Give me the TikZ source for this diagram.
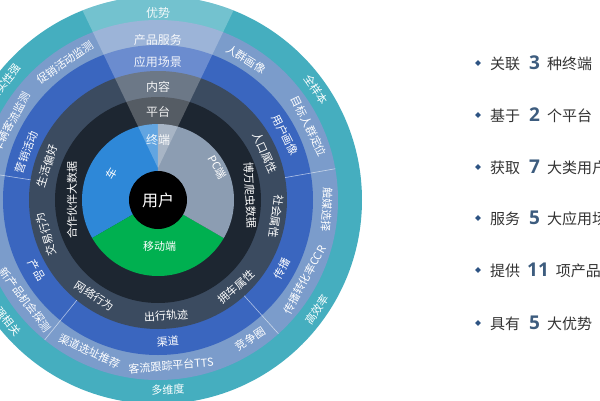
\documentclass[tikz,border=0pt]{standalone}
\usepackage{fontspec}
\setmainfont{Noto Sans CJK SC}
\newfontfamily\numfont{Open Sans}
\usetikzlibrary{shapes.geometric}
\definecolor{ringteal}{HTML}{45AEBF}
\definecolor{ringsteel}{HTML}{7B9CCB}
\definecolor{ringroyal}{HTML}{3A66BF}
\definecolor{ringslate}{HTML}{3B4B60}
\definecolor{ringnavy}{HTML}{1D2631}
\definecolor{carblue}{HTML}{2E88D8}
\definecolor{pcgray}{HTML}{8C9DB2}
\definecolor{mobgreen}{HTML}{00B050}
\definecolor{numblue}{HTML}{3D5C7E}
\definecolor{dotblue}{HTML}{2D5383}
\definecolor{itemgray}{HTML}{333333}

\begin{document}
\begin{tikzpicture}[x=1pt, y=1pt,
    lbl/.style={text=white, font=\fontsize{11}{11}\selectfont, inner sep=0pt},
    toplbl/.style={text=white, text opacity=0.9, font=\fontsize{12}{12}\selectfont, inner sep=0pt},
    sep/.style={white, opacity=0.6, line width=0.6pt},
    dot/.style={diamond, fill=dotblue, inner sep=0pt, minimum size=6pt},
    item/.style={text=itemgray, font=\fontsize{15}{15}\selectfont, inner sep=0pt, anchor=west}]
  \useasboundingbox (-158,-200) rectangle (442,200);
  \begin{scope}
    \clip (-158,-200) rectangle (442,200);
    \fill[ringteal] (0,0) circle (204);
    \fill[ringsteel] (0,0) circle (180);
    \fill[ringroyal] (0,0) circle (155);
    \fill[ringslate] (0,0) circle (129);
    \fill[ringnavy] (0,0) circle (103);
    \fill[carblue] (0,0) -- (90:76) arc (90:210:76) -- cycle;
    \fill[mobgreen] (0,0) -- (210:76) arc (210:330:76) -- cycle;
    \fill[pcgray] (0,0) -- (330:76) arc (330:450:76) -- cycle;
    \begin{scope}
      \clip (0,0) circle (204);
      \fill[white, opacity=0.25] (0,32) -- +(64.4:320) -- +(115.6:320) -- cycle;
    \end{scope}
    \fill[black] (0,0) circle (29);
    \draw[sep] (10:129) -- (10:180);
    \draw[sep] (171:129) -- (171:180);
    \draw[sep] (231:129) -- (231:180);
    \draw[sep] (-48:129) -- (-48:180);

    \node[text=white, font=\fontsize{16}{16}\selectfont, inner sep=0pt] (user) at (0,0) {用户};
    \node[toplbl] (term) at (90:60) {终端};
    \node[toplbl] (plat) at (90:88) {平台};
    \node[toplbl] (cont) at (90:113) {内容};
    \node[toplbl] (scen) at (90:138) {应用场景};
    \node[toplbl] (prod) at (90:160) {产品服务};
    \node[toplbl] (adv) at (90:187) {优势};

    \node[lbl, rotate=60] (car) at (150:53) {车};
    \node[lbl, rotate=-61] (pc) at (29:68) {PC端};
    \node[lbl] (mob) at (272:46) {移动端};

    \node[lbl, rotate=90] (partner) at (180:86) {合作伙伴大数据};
    \node[lbl, rotate=-87] (crawl) at (3:92) {博万爬虫数据};

    \node[lbl, rotate=-66] (popu) at (24:117) {人口属性};
    \node[lbl, rotate=-98] (soci) at (-8:119) {社会属性};
    \node[lbl, rotate=42] (carown) at (-48:117) {拥车属性};
    \node[lbl, rotate=4] (trip) at (-86:116) {出行轨迹};
    \node[lbl, rotate=-33.5] (web) at (236.5:115) {网络行为};
    \node[lbl, rotate=107] (trade) at (197:117) {交易行为};
    \node[lbl, rotate=73] (life) at (163:116) {生活偏好};

    \node[lbl, rotate=-63] (portrait) at (27:143) {用户画像};
    \node[lbl, rotate=61] (spread) at (-29:142) {传播};
    \node[lbl, rotate=4] (chan) at (-86:142) {渠道};
    \node[lbl, rotate=-60] (goods) at (210:140) {产品};
    \node[lbl, rotate=70] (mkt) at (160:140) {营销活动};

    \node[lbl, rotate=-32] (crowd) at (58:166) {人群画像};
    \node[lbl, rotate=-64] (target) at (26:168) {目标人群定位};
    \node[lbl, rotate=-93] (media) at (-3.3:169) {触媒选择};
    \node[lbl, rotate=61.4] (ccr) at (-28.6:167) {传播转化率CCR};
    \node[lbl, rotate=33.6] (compet) at (-56.4:167) {竞争圈};
    \node[lbl, rotate=4.5] (tts) at (-85.5:166) {客流跟踪平台TTS};
    \node[lbl, rotate=-24.4] (site) at (245.6:166) {渠道选址推荐};
    \node[lbl, rotate=-53] (newp) at (217:166) {新产品机会探测};
    \node[lbl, rotate=62] (flow) at (152:166) {车辆客流监测};
    \node[lbl, rotate=34] (promo) at (124:166) {促销活动监测};

    \node[lbl, rotate=-55] (full) at (35:193) {全样本};
    \node[lbl, rotate=55.5] (eff) at (-34.5:193) {高效率};
    \node[lbl, rotate=3] (multi) at (-87:190) {多维度};
    \node[lbl, rotate=-51] (corr) at (219:193) {强相关};
    \node[lbl, rotate=52] (real) at (142.5:193) {真实性强};

    \node[dot] (d1) at (320,137) {};
    \node[dot] (d2) at (320,85) {};
    \node[dot] (d3) at (320,33) {};
    \node[dot] (d4) at (320,-18) {};
    \node[dot] (d5) at (320,-70) {};
    \node[dot] (d6) at (320,-123) {};
    \node[item] (t1) at (332,137) {关联\hspace{9pt}{\numfont\bfseries\fontsize{19}{19}\selectfont\color{numblue}3}\hspace{7pt}种终端};
    \node[item] (t2) at (332,85) {基于\hspace{9pt}{\numfont\bfseries\fontsize{19}{19}\selectfont\color{numblue}2}\hspace{7pt}个平台};
    \node[item] (t3) at (332,33) {获取\hspace{9pt}{\numfont\bfseries\fontsize{19}{19}\selectfont\color{numblue}7}\hspace{7pt}大类用户};
    \node[item] (t4) at (332,-18) {服务\hspace{9pt}{\numfont\bfseries\fontsize{19}{19}\selectfont\color{numblue}5}\hspace{7pt}大应用场景};
    \node[item] (t5) at (332,-70) {提供\hspace{7pt}{\numfont\bfseries\fontsize{19}{19}\selectfont\color{numblue}11}\hspace{7pt}项产品服务};
    \node[item] (t6) at (332,-123) {具有\hspace{9pt}{\numfont\bfseries\fontsize{19}{19}\selectfont\color{numblue}5}\hspace{7pt}大优势};
  \end{scope}
\end{tikzpicture}
\end{document}
